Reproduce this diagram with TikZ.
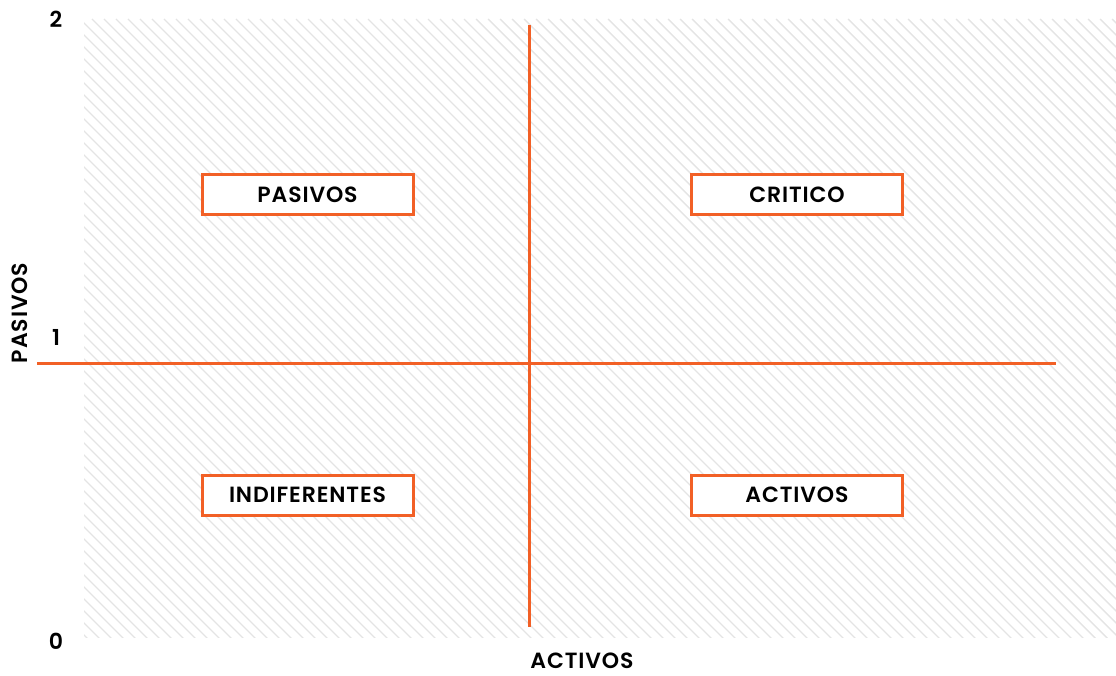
\documentclass[tikz,border=0pt]{standalone}
\usepackage{fontspec}
\setmainfont{Poppins}[BoldFont={* SemiBold}, LetterSpace=4]
\usetikzlibrary{positioning}
\definecolor{naranja}{HTML}{F26026}
\definecolor{rayado}{HTML}{E4E4E4}
\tikzset{
  caja/.style={draw=naranja, line width=3pt, fill=white, minimum width=211pt, minimum height=40pt, font=\fontsize{22}{25}\selectfont\bfseries},
  eje/.style={draw=naranja, line width=3pt},
  marca/.style={inner sep=0pt, font=\fontsize{22}{25}\selectfont\bfseries}
}
\begin{document}
\begin{tikzpicture}[x=1pt, y=-1pt]
    \useasboundingbox (0,0) rectangle (1116,676);
    % fondo rayado
    \begin{scope}
        \clip (84,19) rectangle (1116,637);
        \foreach \i in {-700,-688,...,1116}
            \draw [rayado, line width=1.4pt] (\i,19) -- ++(640,640);
    \end{scope}

    % ejes
    \coordinate (izq) at (37,363);
    \coordinate (der) at (1056,363);
    \coordinate (arriba) at (529,25);
    \coordinate (abajo) at (529,627);
    \draw [eje] (izq) -- (der);
    \draw [eje] (arriba) -- (abajo);

    % cuadrantes
    \node (pasivos) [caja] at (307.5,195) {PASIVOS};
    \node (critico) [caja] at (797,195) {CRITICO};
    \node (indiferentes) [caja] at (307.5,495) {INDIFERENTES};
    \node (activos) [caja] at (797,495) {ACTIVOS};

    % etiquetas
    \node (dos) [marca] at (56,19) {2};
    \node (uno) [marca] at (56,337) {1};
    \node (cero) [marca] at (56,641) {0};
    \node (ejex) [marca] at (582,661) {ACTIVOS};
    \node (ejey) [marca, rotate=90] at (20,313) {PASIVOS};
\end{tikzpicture}
\end{document}
